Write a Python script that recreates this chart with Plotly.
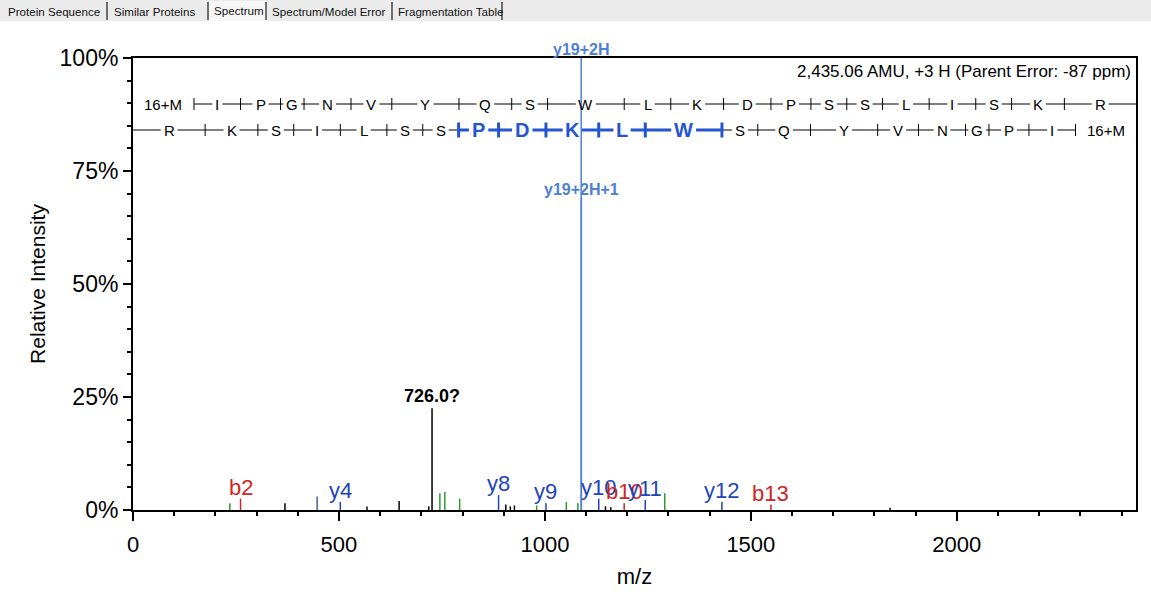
import plotly.graph_objects as go

# ---------------- data ----------------
# peptide (N-term Met oxidised, "16+M")
residues = ["16+M", "I", "P", "G", "N", "V", "Y", "Q", "S", "W", "L",
            "K", "D", "P", "S", "S", "L", "I", "S", "K", "R"]
residue_mass = [147.035, 113.084, 97.053, 57.021, 114.043, 99.068, 163.063,
                128.059, 87.032, 186.079, 113.084, 128.095, 115.027, 97.053,
                87.032, 87.032, 113.084, 113.084, 87.032, 128.095, 156.101]
parent_mass = 2435.06
proton = 1.007
water = 18.011
# residues (index in the y-ladder, C-term first) covered by consecutive y ions
y_highlight = [7, 8, 9, 10, 11]

# unassigned peaks
black_mz = [369, 568, 646, 718, 726.0, 905, 916, 926, 1147, 1160, 1838]
black_h = [1.5, 0.8, 2.0, 0.8, 22.5, 1.2, 0.8, 1.0, 0.8, 0.6, 0.5]
# other assigned (neutral loss etc.)
green_mz = [235, 745, 757, 793, 980, 1052, 1080, 1291]
green_h = [1.5, 3.7, 4.0, 2.5, 1.0, 1.8, 1.5, 3.7]
# b ions
b_names = ["b2", "b10", "b13"]
b_mz = [261.1, 1192.5, 1548.7]
b_h = [2.5, 1.5, 1.2]
# y ions
y_names = ["y4", "y8", "y9", "y10", "y11", "y12"]
y_mz = [503.3, 887.5, 1002.6, 1130.7, 1243.7, 1429.8]
y_h = [1.8, 3.3, 1.5, 2.5, 2.2, 1.8]
y_unlab_mz = [447]
y_unlab_h = [3.0]
# doubly charged y19
y2_names = ["y19+2H", "y19+2H+1"]
y2_mz = [1088.1, 1088.6]
y2_h = [100, 69]
unknown_label = "726.0?"
info_text = "2,435.06 AMU, +3 H (Parent Error: -87 ppm)"
tabs = ["Protein Sequence", "Similar Proteins", "Spectrum",
        "Spectrum/Model Error", "Fragmentation Table"]

# ---------------- layout constants ----------------
W, H = 1151, 592
ML, MR, MT, MB = 133, 15, 58, 82
PW, PH = W - ML - MR, H - MT - MB
XMAX = parent_mass
FONT = "Liberation Sans, Arial, sans-serif"
RED = "#d02424"
BLUE = "#2244bb"
UNLAB = "#4a5f9a"
LBLUE = "#4d7fd6"
HBLUE = "#2456d0"
GREEN = "#2e9a2e"


def px_x(px):
    return (px - ML) / PW


def px_y(py):
    return (H - MB - py) / PH


da_per_px = XMAX / PW


def sticks(mz, h):
    xs, ys = [], []
    for m, v in zip(mz, h):
        xs += [m, m, None]
        ys += [0, v, None]
    return xs, ys


fig = go.Figure()
for mz, h, col in [(black_mz, black_h, "black"), (green_mz, green_h, GREEN),
                   (y_unlab_mz, y_unlab_h, UNLAB),
                   (b_mz, b_h, RED), (y_mz, y_h, BLUE),
                   (y2_mz, y2_h, LBLUE)]:
    xs, ys = sticks(mz, h)
    fig.add_trace(go.Scatter(x=xs, y=ys, mode="lines",
                             line=dict(color=col, width=1.5),
                             hoverinfo="skip", showlegend=False))

ann = []
shapes = []

# ion labels
for names, mz, h, col in [(y_names[:4], y_mz[:4], y_h[:4], BLUE),
                          (b_names[1:2], b_mz[1:2], b_h[1:2], RED),
                          (y_names[4:], y_mz[4:], y_h[4:], BLUE),
                          (b_names[0:1], b_mz[0:1], b_h[0:1], RED),
                          (b_names[2:], b_mz[2:], b_h[2:], RED)]:
    for n, m, v in zip(names, mz, h):
        ann.append(dict(x=m, y=v, xref="x", yref="y", text=n, showarrow=False,
                        xanchor="center", yanchor="bottom", yshift=-3,
                        font=dict(family=FONT, size=22, color=col)))
for n, m, v in zip(y2_names, y2_mz, y2_h):
    ann.append(dict(x=m, y=v, xref="x", yref="y", text="<b>%s</b>" % n,
                    showarrow=False, xanchor="center", yanchor="bottom",
                    yshift=-2, font=dict(family=FONT, size=16, color=LBLUE)))
k = black_h.index(max(black_h))
ann.append(dict(x=black_mz[k], y=black_h[k], xref="x", yref="y",
                text="<b>%s</b>" % unknown_label, showarrow=False,
                xanchor="center", yanchor="bottom", yshift=0,
                font=dict(family=FONT, size=18, color="black")))

ann.append(dict(x=px_x(1133), y=px_y(71), xref="paper", yref="paper",
                text=info_text, showarrow=False, xanchor="right",
                yanchor="middle", font=dict(family=FONT, size=17, color="black")))

# ---------------- fragmentation ladder ----------------
char_w = {"M": .833, "I": .278, "P": .667, "G": .778, "N": .722, "V": .667,
          "Y": .667, "Q": .778, "S": .667, "W": .944, "L": .556, "K": .667,
          "D": .722, "R": .722, "1": .556, "6": .556, "+": .584}


def text_w(t, size):
    return sum(char_w.get(c, .6) for c in t) * size


def ladder(seq, masses, offset, row_py, highlight):
    yrow = px_y(row_py)
    n = len(seq)
    cuts = []
    acc = offset
    for i in range(n - 1):
        acc += masses[i]
        cuts.append(acc)
    bounds = [0] + cuts + [XMAX]
    for i, res in enumerate(seq):
        x0, x1 = bounds[i], bounds[i + 1]
        hi = i in highlight
        size = 20 if hi else 15
        col = HBLUE if hi else "black"
        c = (x0 + x1) / 2
        gap = (text_w(res, size) / 2 + 3) * da_per_px
        lw = 3 if hi else 1
        if res != residues[0]:
            if c - gap > x0:
                shapes.append(dict(type="line", xref="x", yref="paper",
                                   x0=x0, x1=c - gap, y0=yrow, y1=yrow,
                                   line=dict(color=col, width=lw)))
            if c + gap < x1:
                shapes.append(dict(type="line", xref="x", yref="paper",
                                   x0=c + gap, x1=x1, y0=yrow, y1=yrow,
                                   line=dict(color=col, width=lw)))
        txt = "<b>%s</b>" % res if hi else res
        ann.append(dict(x=c, y=yrow, xref="x", yref="paper", text=txt,
                        showarrow=False, xanchor="center", yanchor="middle",
                        font=dict(family=FONT, size=size, color=col)))
    for j, cx in enumerate(cuts):
        hi = (j in highlight) or (j + 1 in highlight)
        hh = 7.5 if hi else 6
        shapes.append(dict(type="line", xref="x", yref="paper", x0=cx, x1=cx,
                           y0=yrow - hh / PH, y1=yrow + hh / PH,
                           line=dict(color=HBLUE if hi else "black",
                                     width=3 if hi else 1)))


ladder(residues, residue_mass, proton, 104, [])
ladder(residues[::-1], residue_mass[::-1], proton + water, 130, y_highlight)

# ---------------- tab bar ----------------
shapes.append(dict(type="rect", xref="paper", yref="paper",
                   x0=px_x(0), x1=px_x(W), y0=px_y(21), y1=px_y(0),
                   fillcolor="#ebebeb", line=dict(width=0), layer="below"))
shapes.append(dict(type="rect", xref="paper", yref="paper",
                   x0=px_x(209), x1=px_x(266), y0=px_y(21), y1=px_y(1),
                   fillcolor="#f7f7f7", line=dict(width=0), layer="below"))
tab_left = [6, 112, 212, 270, 396]
tab_y = [12, 12, 10, 12, 12]
seps = [107, 208, 266, 392, 502]
for t, xl, ty in zip(tabs, tab_left, tab_y):
    ann.append(dict(x=px_x(xl), y=px_y(ty), xref="paper", yref="paper",
                    text=t, showarrow=False, xanchor="left", yanchor="middle",
                    font=dict(family=FONT, size=11.6, color="#111111")))
for s in seps:
    shapes.append(dict(type="line", xref="paper", yref="paper",
                       x0=px_x(s), x1=px_x(s), y0=px_y(20), y1=px_y(2),
                       line=dict(color="#444444", width=1.5)))

fig.update_layout(
    width=W, height=H,
    margin=dict(l=ML, r=MR, t=MT, b=MB, pad=0, autoexpand=False),
    paper_bgcolor="white", plot_bgcolor="white",
    showlegend=False,
    font=dict(family=FONT, color="black"),
    annotations=ann, shapes=shapes,
    xaxis=dict(range=[0, XMAX], tickmode="linear", tick0=0, dtick=500,
               automargin=False,
               ticks="outside", ticklen=9, tickwidth=2, tickcolor="black",
               showline=True, linewidth=2, linecolor="black", mirror=True,
               showgrid=False, zeroline=False,
               tickfont=dict(family=FONT, size=22, color="black"),
               ticklabelstandoff=5,
               minor=dict(dtick=100, ticks="outside", ticklen=4, tickwidth=2,
                          tickcolor="black", showgrid=False),
               title=dict(text="m/z", standoff=12,
                          font=dict(family=FONT, size=22, color="black"))),
    yaxis=dict(range=[0, 100], tickmode="array",
               automargin=False,
               tickvals=[0, 25, 50, 75, 100],
               ticktext=["0%", "25%", "50%", "75%", "100%"],
               ticks="outside", ticklen=8, tickwidth=2, tickcolor="black",
               showline=True, linewidth=2, linecolor="black", mirror=True,
               showgrid=False, zeroline=False,
               tickfont=dict(family=FONT, size=23, color="black"),
               minor=dict(tickvals=[5, 10, 15, 20, 30, 35, 40, 45, 55, 60, 65,
                                    70, 80, 85, 90, 95],
                          ticks="outside", ticklen=4, tickwidth=2,
                          tickcolor="black", showgrid=False),
               title=dict(text="Relative Intensity", standoff=8,
                          font=dict(family=FONT, size=21, color="black"))),
)

fig.write_html("out.html")
